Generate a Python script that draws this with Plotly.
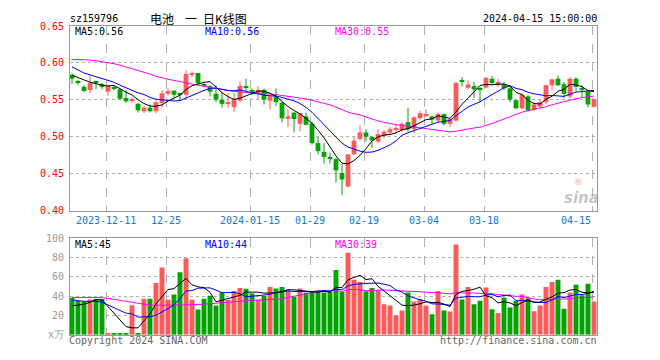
import plotly.graph_objects as go

# ---------------- data ----------------
dates = ["2023-12-01","2023-12-04","2023-12-05","2023-12-06","2023-12-07","2023-12-08",
         "2023-12-11","2023-12-12","2023-12-13","2023-12-14","2023-12-15","2023-12-18",
         "2023-12-19","2023-12-20","2023-12-21","2023-12-22","2023-12-25","2023-12-26",
         "2023-12-27","2023-12-28","2023-12-29","2024-01-02","2024-01-03","2024-01-04",
         "2024-01-05","2024-01-08","2024-01-09","2024-01-10","2024-01-11","2024-01-12",
         "2024-01-15","2024-01-16","2024-01-17","2024-01-18","2024-01-19","2024-01-22",
         "2024-01-23","2024-01-24","2024-01-25","2024-01-26","2024-01-29","2024-01-30",
         "2024-01-31","2024-02-01","2024-02-02","2024-02-05","2024-02-06","2024-02-07",
         "2024-02-08","2024-02-19","2024-02-20","2024-02-21","2024-02-22","2024-02-23",
         "2024-02-26","2024-02-27","2024-02-28","2024-02-29","2024-03-01","2024-03-04",
         "2024-03-05","2024-03-06","2024-03-07","2024-03-08","2024-03-11","2024-03-12",
         "2024-03-13","2024-03-14","2024-03-15","2024-03-18","2024-03-19","2024-03-20",
         "2024-03-21","2024-03-22","2024-03-25","2024-03-26","2024-03-27","2024-03-28",
         "2024-03-29","2024-04-01","2024-04-02","2024-04-03","2024-04-08","2024-04-09",
         "2024-04-10","2024-04-11","2024-04-12","2024-04-15"]

opens = [0.584,0.5737,0.5678,0.5635,0.5735,0.5713,0.5613,0.566,0.5643,0.5526,
         0.549,0.5448,0.5348,0.5396,0.5348,0.546,0.5583,0.5626,0.5575,0.557,
         0.5847,0.5865,0.5704,0.5687,0.5583,0.5504,0.5452,0.5404,0.5491,0.568,
         0.5635,0.5591,0.5635,0.5491,0.5548,0.5461,0.5243,0.533,0.5178,0.5278,
         0.5178,0.4917,0.4796,0.4717,0.47,0.4513,0.433,0.4765,0.4974,0.5061,
         0.50,0.4939,0.5017,0.5061,0.51,0.5091,0.52,0.5104,0.5252,0.5296,
         0.5278,0.5222,0.5309,0.5178,0.5222,0.5757,0.5665,0.5687,0.5652,0.567,
         0.5787,0.57,0.5713,0.5657,0.5496,0.5387,0.5548,0.5365,0.5409,0.547,
         0.57,0.5787,0.5713,0.5548,0.5787,0.5652,0.5613,0.5409]
closes = [0.5787,0.5733,0.5622,0.573,0.573,0.5678,0.569,0.5652,0.5517,0.5483,
          0.5504,0.5361,0.5396,0.5348,0.547,0.559,0.5622,0.557,0.557,0.5852,
          0.5852,0.5722,0.57,0.5613,0.5504,0.5448,0.5461,0.5513,0.5691,0.5674,
          0.5591,0.5635,0.5504,0.5548,0.547,0.5252,0.5278,0.5243,0.5322,0.5165,
          0.4917,0.4809,0.473,0.4713,0.4548,0.4426,0.4765,0.4952,0.5061,0.5004,
          0.4952,0.5039,0.507,0.5104,0.5104,0.5178,0.5104,0.5265,0.5322,0.530,
          0.5235,0.5309,0.5178,0.5243,0.573,0.5752,0.5709,0.5643,0.5648,0.58,
          0.573,0.5743,0.5657,0.5504,0.5387,0.557,0.5361,0.5439,0.547,0.57,
          0.5778,0.57,0.5583,0.5787,0.5678,0.5648,0.5439,0.5513]
highs = [0.5865,0.5774,0.570,0.583,0.5743,0.573,0.570,0.5687,0.5657,0.5635,
         0.5535,0.546,0.5417,0.544,0.5496,0.5635,0.5657,0.5626,0.559,0.5904,
         0.5887,0.5865,0.573,0.570,0.570,0.56,0.559,0.559,0.5752,0.5787,
         0.5657,0.5687,0.5657,0.5557,0.5657,0.5483,0.5374,0.533,0.5322,0.533,
         0.52,0.50,0.4917,0.4787,0.4722,0.4635,0.4765,0.5004,0.5157,0.5104,
         0.5004,0.5104,0.5091,0.5135,0.5178,0.52,0.5396,0.5278,0.5352,0.5374,
         0.5287,0.533,0.5317,0.5252,0.5743,0.5809,0.5765,0.5743,0.5678,0.5809,
         0.5822,0.5787,0.5743,0.5678,0.5504,0.5591,0.557,0.547,0.5496,0.57,
         0.5787,0.583,0.5743,0.5809,0.5809,0.57,0.5635,0.5513]
lows = [0.5717,0.570,0.5604,0.559,0.565,0.5643,0.5557,0.5635,0.5504,0.546,
        0.546,0.533,0.5322,0.533,0.5322,0.5396,0.5557,0.5539,0.5504,0.5504,
        0.581,0.5713,0.567,0.5548,0.547,0.5396,0.5396,0.5343,0.547,0.5626,
        0.557,0.5513,0.5439,0.5374,0.5417,0.52,0.5135,0.5061,0.5078,0.5157,
        0.4896,0.4765,0.4643,0.4643,0.4383,0.4213,0.4322,0.4757,0.4952,0.4939,
        0.4852,0.4917,0.4983,0.5026,0.5048,0.507,0.507,0.5048,0.5235,0.5265,
        0.5178,0.52,0.5157,0.5135,0.5209,0.5678,0.5643,0.5526,0.5474,0.5657,
        0.57,0.5678,0.5635,0.547,0.5374,0.5374,0.5339,0.5352,0.5387,0.5439,
        0.5626,0.5687,0.5526,0.5526,0.5613,0.5526,0.54,0.5396]
volumes = [38.1,35.2,34.2,36.5,36.9,36.9,1.2,1.2,1.2,1.2,
           30.5,1.2,37.2,37.2,53.4,69.6,36.2,41.6,64.6,79.1,
           36.2,26.1,37.2,40.3,30.1,43.6,36.2,45.3,48.3,47.6,
           42.6,36.2,40.3,49.4,47.7,49.4,46.0,39.2,47.7,43.3,
           45.3,44.3,43.6,44.3,66.9,44.3,84.8,56.8,54.4,45.0,
           48.3,46.0,31.5,30.2,20.0,25.0,43.6,34.2,36.9,30.1,
           21.0,45.3,25.0,24.0,93.3,36.5,49.4,31.5,35.2,48.7,
           26.4,22.4,38.5,28.1,35.2,41.6,37.6,24.1,30.1,49.4,
           54.4,56.8,26.7,43.6,51.7,40.9,52.7,34.2]

# moving-average values before enough history exists
ma5_head = [0.5835,0.580,0.5765,0.574]
ma10_head = [0.5948,0.5905,0.5865,0.584,0.5815,0.579,0.5765,0.574,0.570]
ma30_head = [0.6048,0.6046,0.6045,0.604,0.603,0.6018,0.6005,0.599,0.597,0.5948,
             0.5925,0.590,0.5872,0.585,0.582,0.5795,0.578,0.5765,0.5745,0.5728,
             0.5715,0.570,0.5685,0.567,0.565,0.564,0.5628,0.5617,0.5608]
vma5_head = [29.8,30.5,31.5,33.5]
vma10_head = [35.9,35.0,34.5,34.5,34.5,33.5,30.8,28.1,25.7]
vma30_head = [38.5,38.5,38.5,38.5,38.5,38.3,37.5,36.5,35.2,34.0,
              33.0,32.0,31.0,30.5,30.3,30.3,30.5,30.5,30.6,30.8,
              31.0,31.2,31.5,32.0,32.5,33.0,33.5,34.0,34.5]

tick_idx = [6, 16, 30, 40, 49, 59, 69, 87]
tick_text = ["2023-12-11", "12-25", "2024-01-15", "01-29", "02-19", "03-04", "03-18", "04-15"]
price_ticks = [0.40, 0.45, 0.50, 0.55, 0.60, 0.65]
vol_ticks = [0, 20, 40, 60, 80, 100]
vol_ticktext = ["x万", "20", "40", "60", "80", "100"]

# ---------------- helpers ----------------
def rolling(vals, head, n):
    out = list(head)
    for i in range(len(head), len(vals)):
        out.append(sum(vals[i - n + 1:i + 1]) / n)
    return out

N = len(closes)
idx = list(range(N))
RED = "#ff5a5a"
GREEN = "#00a300"
MONO = "DejaVu Sans Mono"
CJK = "Noto Sans CJK SC"

ma5 = rolling(closes, ma5_head, 5)
ma10 = rolling(closes, ma10_head, 10)
ma30 = rolling(closes, ma30_head, 30)
vma5 = rolling(volumes, vma5_head, 5)
vma10 = rolling(volumes, vma10_head, 10)
vma30 = rolling(volumes, vma30_head, 30)

up = [c >= o for o, c in zip(opens, closes)]
colors = [RED if u else GREEN for u in up]

fig = go.Figure()

base = [min(o, c) for o, c in zip(opens, closes)]
hgt = [max(abs(c - o), 0.0013) for o, c in zip(opens, closes)]
for flag, col in [(True, RED), (False, GREEN)]:
    wx, wy = [], []
    for i in idx:
        if up[i] == flag:
            wx += [i, i, None]
            wy += [lows[i], highs[i], None]
    fig.add_trace(go.Scatter(x=wx, y=wy, mode="lines", line=dict(color=col, width=1),
                             hoverinfo="skip", xaxis="x", yaxis="y"))
fig.add_trace(go.Bar(x=idx, y=hgt, base=base, marker=dict(color=colors, line=dict(width=0)),
                     width=0.8, xaxis="x", yaxis="y"))

for ser, col in [(ma30, "#ff00ff"), (ma10, "#0000ff"), (ma5, "#000000")]:
    fig.add_trace(go.Scatter(x=idx, y=ser, mode="lines", line=dict(color=col, width=1),
                             xaxis="x", yaxis="y"))

fig.add_trace(go.Bar(x=idx, y=volumes, marker=dict(color=colors, line=dict(width=0)),
                     width=0.82, xaxis="x2", yaxis="y2"))
for ser, col in [(vma30, "#ff00ff"), (vma10, "#0000ff"), (vma5, "#000000")]:
    fig.add_trace(go.Scatter(x=idx, y=ser, mode="lines", line=dict(color=col, width=1),
                             xaxis="x2", yaxis="y2"))

W, H = 660, 360
xdom = [70 / W, 597 / W]
xr = [-1 / 3, 87.5]
grid_x = [i - 1 / 3 for i in tick_idx]
axx = dict(domain=xdom, range=xr, tickvals=grid_x, showticklabels=False, showgrid=True,
           gridcolor="#b0b0b0", griddash="dash", gridwidth=1, showline=True, mirror=True,
           linecolor="#999", linewidth=1, zeroline=False, ticks="", fixedrange=True)

fig.update_layout(
    width=W, height=H, margin=dict(l=0, r=0, t=0, b=0),
    paper_bgcolor="white", plot_bgcolor="white", showlegend=False,
    xaxis=dict(axx, anchor="y"),
    xaxis2=dict(axx, anchor="y2"),
    yaxis=dict(domain=[1 - 212 / H, 1 - 20.7 / H], range=[0.40, 0.65], tickvals=price_ticks,
               ticktext=["%.2f" % t for t in price_ticks],
               tickfont=dict(family=MONO, size=10, color="#ff0000"),
               ticks="outside", ticklen=3, tickcolor="rgba(0,0,0,0)",
               showgrid=True, gridcolor="#b0b0b0", griddash="dot", showline=True, mirror=True,
               linecolor="#999", zeroline=False, anchor="x", fixedrange=True),
    yaxis2=dict(domain=[1 - 340 / H, 1 - 240 / H], range=[0, 100], tickvals=vol_ticks,
                ticktext=vol_ticktext,
                tickfont=dict(family=MONO, size=10, color="#999"),
                ticks="outside", ticklen=3, tickcolor="rgba(0,0,0,0)",
                showgrid=True, gridcolor="#b0b0b0", griddash="dot", showline=True, mirror=True,
                linecolor="#999", zeroline=False, anchor="x2", fixedrange=True),
)

ann = []
def txt(x, y, s, color="#000", anchor="left", size=10, family=MONO):
    ann.append(dict(x=x / W, y=1 - y / H, xref="paper", yref="paper",
                    text=s, showarrow=False, xanchor=anchor, yanchor="middle",
                    font=dict(family=family, size=size, color=color), borderpad=0))

txt(69, 13, "sz159796")
txt(149, 13, "电池", size=12, family=CJK)
txt(184, 13, "一", size=12, family=CJK)
txt(202, 13, "日K线图", size=12, family=CJK)
txt(598, 13, "2024-04-15 15:00:00", anchor="right")
txt(74, 26.5, "MA5:0.56")
txt(204, 26.5, "MA10:0.56", color="#0000ff")
txt(334, 26.5, "MA30:0.55", color="#ff00ff")
txt(74, 247, "MA5:45")
txt(204, 247, "MA10:44", color="#0000ff")
txt(334, 247, "MA30:39", color="#ff00ff")
txt(68, 346.5, "Copyright 2024 SINA.COM", color="#666")
txt(598, 346.5, "http://finance.sina.com.cn", color="#666", anchor="right")
for k, (gi, lab) in enumerate(zip(grid_x, tick_text)):
    ann.append(dict(x=gi, y=1 - 222 / H, xref="x", yref="paper", text=lab, showarrow=False,
                    xanchor="right" if k == len(tick_text) - 1 else "center",
                    yanchor="middle", borderpad=0,
                    font=dict(family=MONO, size=10, color="#1478cc")))
txt(581, 199, "<b><i>sina</i></b>", color="rgba(150,150,150,0.55)", anchor="center",
    size=15, family="DejaVu Sans")
txt(578, 181, "◉", color="rgba(240,120,120,0.35)", anchor="center", size=10, family="DejaVu Sans")
fig.update_layout(annotations=ann)

fig.write_html("out.html", config={"displayModeBar": False},
               post_script="document.body.style.margin='0';document.body.style.overflow='hidden';")
